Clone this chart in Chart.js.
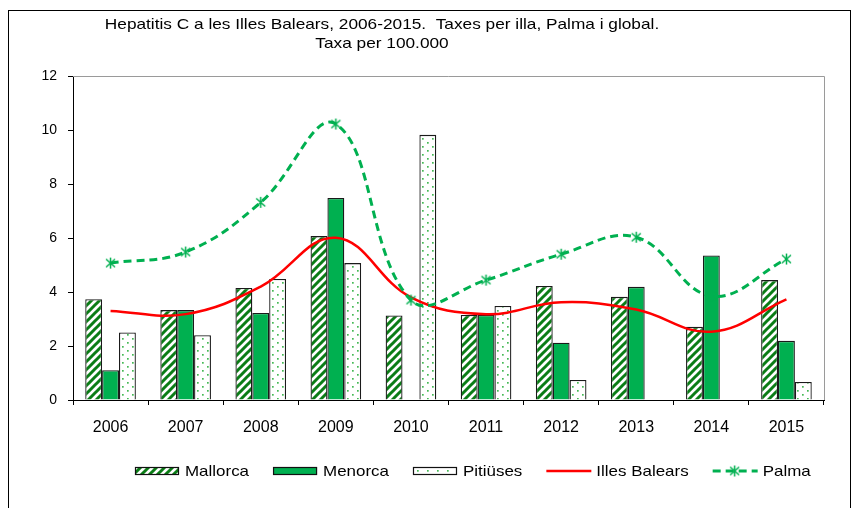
<!DOCTYPE html>
<html>
<head>
<meta charset="utf-8">
<script src="https://cdn.jsdelivr.net/npm/chart.js@4/dist/chart.umd.min.js"></script>
<style>
  html, body { margin: 0; padding: 0; background: #fff; overflow: hidden; }
  #wrap { position: relative; width: 857px; height: 508px; }
</style>
</head>
<body>
<div id="wrap"><canvas id="hepChart" width="857" height="508"></canvas></div>
<script>
const years = ['2006', '2007', '2008', '2009', '2010', '2011', '2012', '2013', '2014', '2015'];
const mallorca = [3.73, 3.33, 4.15, 6.07, 3.13, 3.15, 4.22, 3.82, 2.71, 4.44];
const menorca = [1.10, 3.33, 3.22, 7.48, null, 3.15, 2.12, 4.19, 5.35, 2.19];
const pitiuses = [2.50, 2.40, 4.48, 5.07, 9.82, 3.48, 0.74, null, null, 0.67];
const illesBalears = [3.30, 3.18, 4.20, 6.01, 3.80, 3.18, 3.62, 3.35, 2.53, 3.73];
const palma = [5.07, 5.48, 7.32, 10.22, 3.70, 4.44, 5.40, 6.03, 3.85, 5.22];
const titleLines = ['Hepatitis C a les Illes Balears, 2006-2015.  Taxes per illa, Palma i global.', 'Taxa per 100.000'];

const FONT = '"Liberation Sans", Arial, sans-serif';
const GREEN = '#00B050';

function tile(w, h, paint) {
  const c = document.createElement('canvas');
  c.width = w; c.height = h;
  const g = c.getContext('2d');
  g.fillStyle = '#fff';
  g.fillRect(0, 0, w, h);
  paint(g);
  return c;
}

// diagonal "/" stripes for Mallorca
const stripeTile = tile(8, 8, g => {
  g.strokeStyle = '#0b7d16';
  g.lineWidth = 3;
  g.beginPath();
  g.moveTo(-2, 10); g.lineTo(10, -2);
  g.moveTo(-2, 2); g.lineTo(2, -2);
  g.moveTo(6, 10); g.lineTo(10, 6);
  g.stroke();
});
// sparse dots for Pitiüses
const dotTile = tile(10, 8, g => {
  g.fillStyle = '#46b956';
  g.fillRect(2, 2, 1.7, 1.7);
  g.fillRect(7, 6, 1.7, 1.7);
});

const ctx = document.getElementById('hepChart').getContext('2d');
const stripeFill = ctx.createPattern(stripeTile, 'repeat');
const dotFill = ctx.createPattern(dotTile, 'repeat');

// asterisk marker used by Palma
const star = document.createElement('canvas');
star.width = 13; star.height = 13;
(function () {
  const g = star.getContext('2d');
  g.strokeStyle = GREEN;
  g.lineWidth = 1.5;
  g.beginPath();
  g.moveTo(6.5, 1); g.lineTo(6.5, 12);
  g.moveTo(2, 2.5); g.lineTo(11, 10.5);
  g.moveTo(2, 10.5); g.lineTo(11, 2.5);
  g.stroke();
})();

// the reference text is a little wider than Arial, so stretch it sideways
function wideText(c, text, x, y, sx) {
  c.save();
  c.translate(x, y);
  c.scale(sx, 1);
  c.fillText(text, 0, 0);
  c.restore();
}

const frame = {
  id: 'frame',
  beforeDatasetsDraw(chart) {
    const a = chart.chartArea, c = chart.ctx;
    c.save();
    c.strokeStyle = '#9a9a9a';
    c.lineWidth = 1;
    c.beginPath();
    c.moveTo(a.left, a.top + 0.5);
    c.lineTo(a.right + 0.5, a.top + 0.5);
    c.lineTo(a.right + 0.5, a.bottom);
    c.stroke();
    c.restore();
  },
  afterDraw(chart) {
    const c = chart.ctx;
    c.save();
    // outer box of the sheet
    c.strokeStyle = '#000';
    c.lineWidth = 1;
    c.strokeRect(8.5, 10.5, 842, 600);

    c.fillStyle = '#000';
    c.textAlign = 'center';
    c.textBaseline = 'middle';
    c.font = '14.5px ' + FONT;
    wideText(c, titleLines[0], 382, 25, 1.19);
    wideText(c, titleLines[1], 382, 44, 1.19);

    // legend
    const sx = 1.13;
    c.textAlign = 'left';
    c.font = '15px ' + FONT;
    let x = 135;
    const y = 471;
    chart.data.datasets.forEach(ds => {
      c.save();
      if (ds.type === 'line') {
        c.strokeStyle = ds.borderColor;
        c.lineWidth = ds.borderWidth;
        c.setLineDash(ds.borderDash || []);
        c.beginPath();
        c.moveTo(x, y); c.lineTo(x + 45, y);
        c.stroke();
        if (ds.pointStyle instanceof HTMLCanvasElement) {
          c.drawImage(ds.pointStyle, x + 22 - 6.5, y - 6.5);
        }
      } else {
        c.fillStyle = ds.backgroundColor;
        c.fillRect(x, y - 4, 44, 8);
        c.strokeStyle = '#111';
        c.lineWidth = 1.2;
        c.strokeRect(x + 0.5, y - 4 + 0.5, 43, 7);
      }
      c.restore();
      wideText(c, ds.label, x + 50, y + 1, sx);
      x += 50 + c.measureText(ds.label).width * sx + 24;
    });
    c.restore();
  }
};

const barStyle = {
  borderColor: '#1a1a1a',
  borderWidth: 1.3,
  categoryPercentage: 0.674,
  barPercentage: 1,
  order: 3
};

new Chart(ctx, {
  type: 'bar',
  data: {
    labels: years,
    datasets: [
      { ...barStyle, label: 'Mallorca', data: mallorca, backgroundColor: stripeFill },
      { ...barStyle, label: 'Menorca', data: menorca, backgroundColor: GREEN },
      { ...barStyle, label: 'Pitiüses', data: pitiuses, backgroundColor: dotFill },
      {
        type: 'line', label: 'Illes Balears', data: illesBalears,
        borderColor: '#ff0000', borderWidth: 2.5, pointRadius: 0,
        tension: 0.4, fill: false, order: 2
      },
      {
        type: 'line', label: 'Palma', data: palma,
        borderColor: GREEN, borderWidth: 3, borderDash: [8, 5],
        pointStyle: star, pointRadius: 6,
        tension: 0.4, fill: false, order: 1
      }
    ]
  },
  options: {
    responsive: false,
    animation: false,
    events: [],
    layout: { padding: { top: 76, right: 33, bottom: 0, left: 0 } },
    plugins: {
      legend: { display: false },
      title: { display: false },
      tooltip: { enabled: false }
    },
    scales: {
      x: {
        offset: true,
        grid: { offset: true, drawOnChartArea: false, tickLength: 5, color: '#000' },
        border: { color: '#000', width: 1 },
        ticks: { color: '#000', font: { family: FONT, size: 16 }, padding: 13, maxRotation: 0 },
        afterFit(s) { s.height = 108; }
      },
      y: {
        min: 0,
        max: 12,
        grid: { drawOnChartArea: false, tickLength: 5, color: '#000' },
        border: { color: '#000', width: 1 },
        ticks: { stepSize: 2, color: '#000', font: { family: FONT, size: 14 }, padding: 11 },
        afterFit(s) { s.width = 73; }
      }
    }
  },
  plugins: [frame]
});
</script>
</body>
</html>
